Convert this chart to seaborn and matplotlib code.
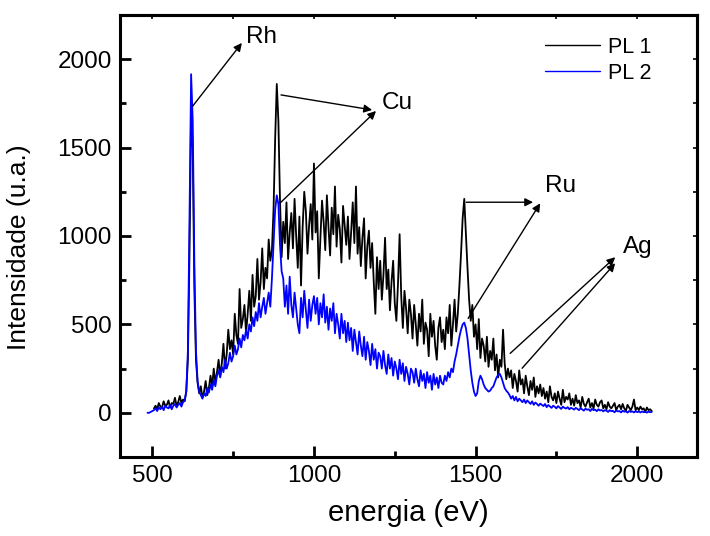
import numpy as np
import pandas as pd
import matplotlib
matplotlib.use("Agg")
import matplotlib.pyplot as plt
import seaborn as sns
from matplotlib.ticker import MultipleLocator

# ---------------- data ----------------
# sampling grid of the spectra (eV)
energy = np.arange(485, 2046, 5)

nan = np.nan
# PL 1 (black) intensity, 5 eV steps from 485 to 2045 eV
pl1 = (
    [nan, nan, nan, nan]
    + [25, 40, 20, 55, 35, 30, 65, 40, 45, 70, 30, 55, 50, 85, 40, 60, 95, 55, 75, 65]
    + [120, 300, 900, 1700, 1500, 700, 300, 170, 110, 150, 85, 120, 180, 100, 140, 210, 150, 250, 170, 230]
    + [300, 210, 280, 390, 250, 330, 470, 360, 410, 330, 560, 440, 390, 700, 480, 530, 610, 450, 560, 690]
    + [520, 780, 600, 660, 870, 640, 740, 930, 700, 820, 760, 980, 860, 920, 1150, 1550, 1860, 1650, 1200, 880]
    + [1080, 960, 1190, 870, 1020, 1130, 930, 1210, 1000, 820, 1110, 720, 1050, 1250, 1140, 900, 1060, 1180, 980, 1410]
    + [1020, 1140, 760, 990, 1200, 1080, 920, 1230, 1050, 890, 1160, 1010, 1280, 940, 1120, 1040, 850, 1170, 1060, 950]
    + [1110, 870, 1020, 1190, 960, 1280, 900, 1050, 830, 990, 1100, 760, 940, 1030, 820, 960, 740, 560, 880, 700]
    + [860, 640, 780, 990, 700, 810, 580, 740, 860, 620, 520, 730, 1010, 660, 480, 690, 590, 450, 640, 560]
    + [420, 610, 500, 380, 560, 460, 640, 390, 510, 470, 320, 560, 430, 520, 380, 300, 480, 540, 400, 470]
    + [360, 540, 450, 610, 380, 500, 640, 460, 560, 720, 900, 1100, 1210, 1010, 820, 640, 520, 610, 430, 500]
    + [360, 530, 310, 420, 380, 290, 430, 260, 350, 300, 420, 240, 330, 200, 300, 260, 470, 280, 190, 250]
    + [200, 240, 140, 220, 180, 120, 240, 160, 190, 110, 210, 150, 100, 180, 130, 200, 90, 150, 110, 160]
    + [95, 140, 80, 120, 60, 150, 90, 70, 110, 55, 120, 80, 45, 130, 60, 90, 75, 110, 45, 80]
    + [40, 100, 55, 70, 30, 90, 50, 35, 60, 80, 30, 55, 25, 75, 45, 35, 60, 70, 25, 45]
    + [20, 60, 35, 25, 40, 55, 15, 35, 45, 20, 50, 25, 10, 45, 30, 15, 35, 75, 15, 30]
    + [15, 35, 20, 25, 5, 30, 15, 20, 10]
)

# PL 2 (blue) intensity, same grid
pl2 = (
    [0, 0, 5, 10]
    + [15, 25, 10, 30, 20, 35, 15, 40, 30, 25, 45, 20, 40, 50, 30, 45, 55, 35, 60, 70]
    + [120, 350, 1100, 1915, 1650, 850, 350, 180, 120, 100, 80, 110, 95, 140, 115, 160, 130, 185, 150, 210]
    + [240, 200, 260, 230, 300, 250, 280, 340, 290, 320, 380, 330, 360, 420, 370, 440, 410, 470, 420, 500]
    + [460, 540, 490, 570, 520, 620, 540, 600, 650, 560, 620, 680, 600, 760, 950, 1150, 1230, 1180, 950, 800]
    + [760, 600, 720, 560, 770, 610, 540, 680, 590, 500, 450, 650, 540, 690, 580, 480, 640, 520, 610, 660]
    + [560, 650, 500, 620, 540, 670, 510, 600, 470, 590, 520, 620, 450, 560, 500, 420, 560, 450, 520, 400]
    + [510, 410, 480, 350, 470, 400, 330, 460, 380, 320, 430, 300, 400, 350, 270, 390, 300, 360, 250, 340]
    + [320, 250, 350, 270, 220, 330, 250, 310, 210, 290, 250, 190, 300, 220, 280, 180, 260, 220, 160, 250]
    + [230, 170, 250, 190, 150, 240, 180, 220, 140, 230, 170, 210, 130, 220, 160, 200, 140, 210, 170, 160]
    + [210, 180, 230, 200, 250, 230, 290, 330, 380, 430, 470, 500, 510, 480, 420, 330, 240, 170, 120, 95]
    + [110, 180, 210, 190, 160, 140, 130, 120, 125, 140, 150, 175, 200, 215, 220, 200, 170, 140, 125, 115]
    + [100, 80, 95, 70, 90, 65, 80, 70, 60, 75, 55, 70, 60, 50, 65, 45, 58, 50, 40, 52]
    + [45, 38, 50, 32, 44, 36, 28, 40, 34, 25, 38, 30, 22, 35, 28, 24, 32, 20, 28, 24]
    + [18, 28, 22, 15, 26, 19, 12, 24, 17, 20, 10, 22, 15, 18, 9, 20, 13, 16, 8, 15]
    + [12, 5, 15, 9, 11, 3, 13, 8, 10, 2, 12, 6, 9, 1, 10, 5, 8, 2, 9, 4]
    + [7, 2, 8, 3, 6, 1, 7, 3, 5]
)

series_names = ["PL 1", "PL 2"]
series_colors = ["black", "blue"]

x_ticks = [500, 1000, 1500, 2000]
y_ticks = [0, 500, 1000, 1500, 2000]

# peak labels: text, text position, arrows (start, end)
peak_labels = ["Rh", "Cu", "Ru", "Ag"]
label_pos = [(839, 2124), (1257, 1752), (1762, 1282), (2003, 936)]
arrows = [
    [((625, 1735), (777, 2092))],
    [((898, 1798), (1180, 1713)), ((895, 1186), (1192, 1707))],
    [((1471, 1191), (1678, 1191)), ((1477, 534), (1700, 1185))],
    [((1607, 336), (1932, 880)), ((1644, 252), (1932, 846))],
]

# ---------------- figure ----------------
sns.set_style("ticks")
plt.rcParams["font.family"] = ["Liberation Sans", "DejaVu Sans"]
for key in ["text.color", "axes.labelcolor", "xtick.color", "ytick.color", "axes.edgecolor"]:
    plt.rcParams[key] = "black"

df = pd.DataFrame({
    "energia": np.concatenate([energy, energy]),
    "I": np.concatenate([np.array(pl1, dtype=float), np.array(pl2, dtype=float)]),
    "serie": [series_names[0]] * len(energy) + [series_names[1]] * len(energy),
})

fig = plt.figure(figsize=(7.1, 5.36), dpi=100)
ax = fig.add_axes([120 / 710, 1 - 457 / 536, 577 / 710, 442 / 536])

sns.lineplot(data=df, x="energia", y="I", hue="serie",
             palette=dict(zip(series_names, series_colors)),
             estimator=None, sort=False, lw=1.3, ax=ax)

ax.set_xlim(400, 2185)
ax.set_ylim(-250, 2250)
ax.set_xticks(x_ticks)
ax.set_yticks(y_ticks)
ax.xaxis.set_minor_locator(MultipleLocator(250))
ax.yaxis.set_minor_locator(MultipleLocator(250))
ax.tick_params(which="major", direction="in", length=8, width=2, labelsize=17.5, pad=6,
               colors="black")
ax.tick_params(which="minor", direction="in", length=4, width=2, colors="black")
for s in ax.spines.values():
    s.set_linewidth(2.2)
    s.set_color("black")

# small ticks on top / right
secx = ax.secondary_xaxis("top")
secx.xaxis.set_major_locator(MultipleLocator(250))
secx.tick_params(direction="in", length=3, width=1.2, labeltop=False, colors="black")
secx.spines["top"].set_linewidth(2.2)
secy = ax.secondary_yaxis("right")
secy.yaxis.set_major_locator(MultipleLocator(250))
secy.tick_params(direction="in", length=3, width=1.2, labelright=False, colors="black")
secy.spines["right"].set_linewidth(2.2)

ax.set_xlabel("energia (eV)", fontsize=21, color="black")
ax.set_ylabel("Intensidade (u.a.)", fontsize=19, color="black")
ax.xaxis.set_label_coords(0.5, -0.095)
ax.yaxis.set_label_coords(-0.155, 0.475)

handles, labels = ax.get_legend_handles_labels()
for h in handles:
    h.set_linewidth(1.0)
ax.legend(handles, labels, loc="upper left", bbox_to_anchor=(0.7366, 0.951),
          frameon=False, fontsize=15.5, handlelength=2.56, handletextpad=0.37,
          labelspacing=0.23, borderpad=0, borderaxespad=0)

for name, pos, arrs in zip(peak_labels, label_pos, arrows):
    for start, end in arrs:
        ax.annotate("", xy=end, xytext=start,
                    arrowprops=dict(arrowstyle="-|>", color="black", lw=1.0,
                                    mutation_scale=12, shrinkA=0, shrinkB=0))
    ax.text(pos[0], pos[1], name, fontsize=17.5, ha="center", va="center", color="black")

fig.savefig("out.png", dpi=100)
